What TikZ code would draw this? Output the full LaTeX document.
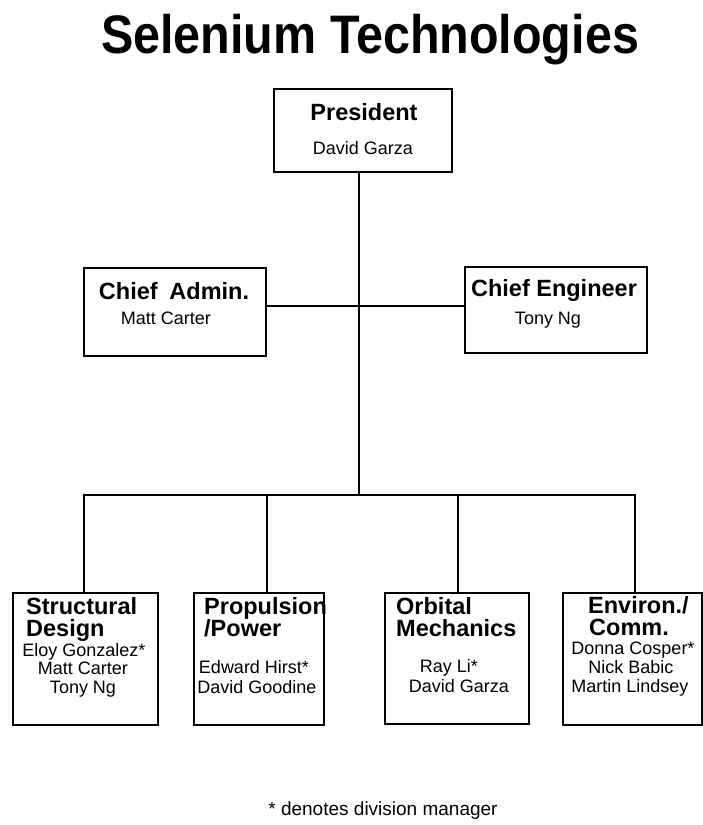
\documentclass[tikz,border=0pt]{standalone}
\usepackage{fontspec}
\setmainfont{Liberation Sans}
\begin{document}
\begin{tikzpicture}[x=1pt,y=-1pt,
  box/.style={draw, line width=1.8pt, inner sep=0pt, anchor=north west},
  link/.style={line width=1.8pt},
  head/.style={font=\fontsize{23.5}{26}\selectfont\bfseries, inner sep=0pt,
    text height=16pt, text depth=1pt},
  who/.style={font=\fontsize{18}{20}\selectfont, inner sep=0pt, anchor=base,
    text height=12pt, text depth=1pt},
]
\useasboundingbox (0,0) rectangle (703,825);

% title
\node[anchor=base, inner sep=0pt, font=\fontsize{48}{50}\selectfont\bfseries] (title) at (370,53)
  {\scalebox{1.01}[1.13]{Selenium Technologies}};

% boxes
\node[box, minimum width=178pt, minimum height=83pt] (pres) at (273,88) {};
\node[box, minimum width=182pt, minimum height=88pt] (admin) at (83,267) {};
\node[box, minimum width=182pt, minimum height=86pt] (eng) at (464,266) {};
\node[box, minimum width=145pt, minimum height=132pt] (s1) at (12,592) {};
\node[box, minimum width=130pt, minimum height=132pt] (s2) at (193,592) {};
\node[box, minimum width=144pt, minimum height=131pt] (s3) at (384,592) {};
\node[box, minimum width=139pt, minimum height=132pt] (s4) at (562,592) {};

% connectors
\coordinate (spine) at (359,306);
\coordinate (hub) at (359,495);
\draw[link] (pres.south -| hub) -- (hub);
\draw[link] (admin.east |- spine) -- (eng.west |- spine);
\draw[link] (hub) -| ([xshift=-1.5pt]s1.north);
\draw[link] (hub) -| ([xshift=8pt]s2.north);
\draw[link] (hub) -| ([xshift=1pt]s3.north);
\draw[link] (hub) -| ([xshift=2.5pt]s4.north);

% top level texts
\node[head, anchor=base] (presT) at (364,120) {President};
\node[who] (presN) at (363,154) {David Garza};
\node[head, anchor=base] (adminT) at (174,299) {Chief\hspace{0.5em}Admin.};
\node[who] (adminN) at (166,324) {Matt Carter};
\node[head, anchor=base] (engT) at (554,296) {Chief Engineer};
\node[who] (engN) at (548,324) {Tony Ng};

% division texts
\node[head, anchor=base west] (s1a) at (26,614) {Structural};
\node[head, anchor=base west] (s1b) at (26,636) {Design};
\node[who] (s1n1) at (84,656) {Eloy Gonzalez*};
\node[who] (s1n2) at (83,674) {Matt Carter};
\node[who] (s1n3) at (83,693) {Tony Ng};

\node[head, anchor=base west] (s2a) at (204,614) {Propulsion};
\node[head, anchor=base west] (s2b) at (204,636) {/Power};
\node[who] (s2n1) at (254,673) {Edward Hirst*};
\node[who] (s2n2) at (257,693) {David Goodine};

\node[head, anchor=base west] (s3a) at (396,614) {Orbital};
\node[head, anchor=base west] (s3b) at (396,636) {Mechanics};
\node[who] (s3n1) at (449,672) {Ray Li*};
\node[who] (s3n2) at (459,692) {David Garza};

\node[head, anchor=base west] (s4a) at (588,613) {Environ./};
\node[head, anchor=base west] (s4b) at (589,635) {Comm.};
\node[who] (s4n1) at (633,654) {Donna Cosper*};
\node[who] (s4n2) at (631,673) {Nick Babic};
\node[who] (s4n3) at (630,692) {Martin Lindsey};

% footnote
\node[who, font=\fontsize{19}{21}\selectfont] (note) at (383,815) {* denotes division manager};
\end{tikzpicture}
\end{document}
